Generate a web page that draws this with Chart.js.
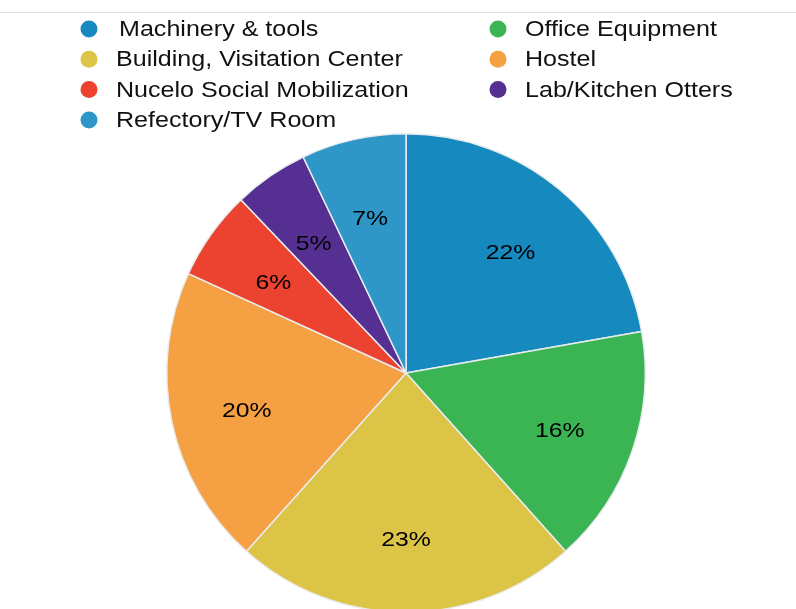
<!DOCTYPE html>
<html>
<head>
<meta charset="utf-8">
<script src="https://cdn.jsdelivr.net/npm/chart.js@4"></script>
<style>
  html, body { margin: 0; padding: 0; background: #fff; overflow: hidden; }
  #wrap { position: relative; width: 796px; height: 632px; }
</style>
</head>
<body>
<div id="wrap"><canvas id="chart"></canvas></div>
<script>
const categories = ['Machinery & tools', 'Office Equipment', 'Building, Visitation Center', 'Hostel',
                    'Nucelo Social Mobilization', 'Lab/Kitchen Otters', 'Refectory/TV Room'];
const shares = [22, 16, 23, 20, 6, 5, 7];
const sliceColors = ['#1689bf', '#3bb553', '#dcc446', '#f5a043', '#ec4331', '#552f92', '#2e97c7'];

// the source picture is stretched sideways a bit, so the text is widened to match
function wideText(ctx, text, x, y, sx) {
  ctx.save();
  ctx.translate(x, y);
  ctx.scale(sx, 1);
  ctx.fillText(text, 0, 0);
  ctx.restore();
}

// percent labels inside the slices
const sliceLabels = {
  id: 'sliceLabels',
  afterDatasetsDraw(chart) {
    const ctx = chart.ctx;
    const meta = chart.getDatasetMeta(0);
    ctx.save();
    ctx.font = '21px "Liberation Sans", Arial, sans-serif';
    ctx.fillStyle = '#000';
    ctx.textAlign = 'center';
    ctx.textBaseline = 'middle';
    meta.data.forEach((arc, i) => {
      const p = arc.getProps(['x', 'y', 'startAngle', 'endAngle', 'outerRadius']);
      const mid = (p.startAngle + p.endAngle) / 2;
      const r = p.outerRadius * 0.68;
      wideText(ctx, shares[i] + '%', p.x + Math.cos(mid) * r, p.y + Math.sin(mid) * r + 5, 1.18);
    });
    ctx.restore();
  }
};

// two column legend at the top, plus the thin rule above it
const twoColLegend = {
  id: 'twoColLegend',
  afterDraw(chart) {
    const ctx = chart.ctx;
    ctx.save();
    ctx.strokeStyle = '#e2e2e2';
    ctx.lineWidth = 1;
    ctx.beginPath();
    ctx.moveTo(0, 12.5);
    ctx.lineTo(chart.width, 12.5);
    ctx.stroke();

    ctx.font = '22px "Liberation Sans", Arial, sans-serif';
    ctx.textBaseline = 'middle';
    ctx.textAlign = 'left';
    categories.forEach((name, i) => {
      const col = i % 2;
      const row = Math.floor(i / 2);
      const y = 29 + row * 30.3;
      const dotX = col === 0 ? 89 : 498;
      const textX = col === 0 ? 116 : 525;
      ctx.fillStyle = sliceColors[i];
      ctx.beginPath();
      ctx.arc(dotX, y, 8.5, 0, Math.PI * 2);
      ctx.fill();
      ctx.fillStyle = '#111';
      wideText(ctx, name, i === 0 ? textX + 3 : textX, y + 1, 1.14);
    });
    ctx.restore();
  }
};

new Chart(document.getElementById('chart'), {
  type: 'pie',
  data: {
    labels: categories,
    datasets: [{
      data: shares,
      backgroundColor: sliceColors,
      borderColor: '#e9ecee',
      borderWidth: 1.5
    }]
  },
  options: {
    responsive: true,
    maintainAspectRatio: false,
    animation: false,
    layout: { padding: { top: 133, bottom: 19, left: 166, right: 150 } },
    plugins: {
      legend: { display: false },
      tooltip: { enabled: false }
    }
  },
  plugins: [sliceLabels, twoColLegend]
});
</script>
</body>
</html>
